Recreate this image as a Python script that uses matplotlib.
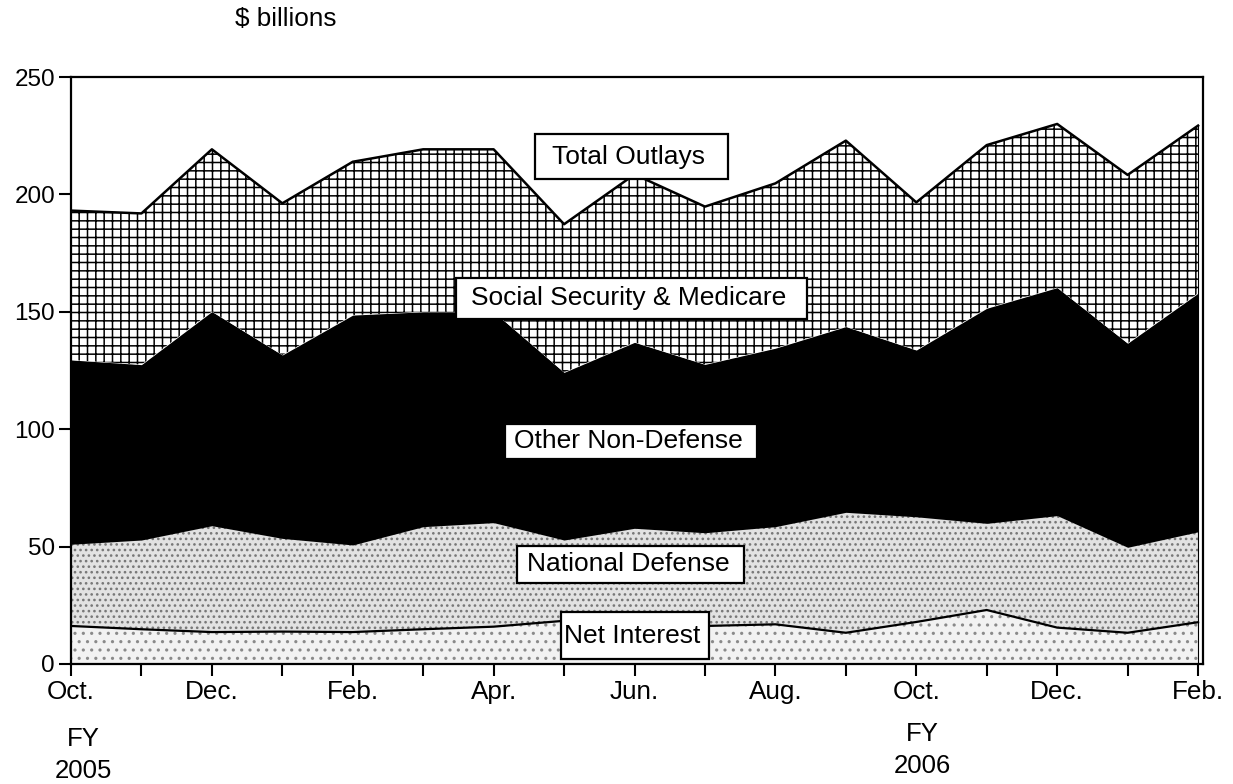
import matplotlib
matplotlib.use("Agg")
import matplotlib.pyplot as plt
import matplotlib.transforms as mtransforms
from matplotlib.patches import Rectangle
import numpy as np

plt.rcParams["font.family"] = ["Liberation Sans", "DejaVu Sans"]
plt.rcParams["hatch.linewidth"] = 1.1

# ---- data ($ billions), Oct FY2005 .. Feb FY2006 ----
months = ["Oct.", "Nov.", "Dec.", "Jan.", "Feb.", "Mar.", "Apr.", "May", "Jun.",
          "Jul.", "Aug.", "Sep.", "Oct.", "Nov.", "Dec.", "Jan.", "Feb."]
net_interest = [16.2, 14.8, 13.6, 13.8, 13.6, 14.8, 15.9, 18.4, 17.0,
                16.2, 16.9, 13.3, 17.9, 23.0, 15.5, 13.3, 17.8]
national_defense = [34.8, 38.0, 45.3, 39.7, 37.1, 43.7, 44.3, 34.4, 40.8,
                    39.7, 41.6, 51.3, 44.8, 36.9, 47.7, 36.4, 38.5]
other_non_defense = [78.5, 74.7, 91.2, 78.1, 97.9, 91.5, 89.8, 71.4, 79.2,
                     71.7, 76.0, 79.1, 71.0, 91.6, 97.1, 86.9, 101.6]
social_security_medicare = [63.6, 64.4, 69.1, 64.6, 65.3, 69.2, 69.2, 63.1, 71.5,
                            67.2, 70.2, 79.2, 62.9, 69.5, 69.7, 71.7, 71.4]
y_ticks = [0, 50, 100, 150, 200, 250]

x = np.arange(len(months))
c1 = np.array(net_interest)
c2 = c1 + np.array(national_defense)
c3 = c2 + np.array(other_non_defense)
c4 = c3 + np.array(social_security_medicare)

fig = plt.figure(figsize=(12.33, 7.84), dpi=100)
ax = fig.add_axes([71 / 1233, 1 - 664 / 784, (1203 - 71) / 1233, (664 - 77) / 784])

ax.fill_between(x, 0, c1, facecolor="#f2f2f2", edgecolor="#8a8a8a", hatch="..", linewidth=0, zorder=1)
ax.fill_between(x, c1, c2, facecolor="#e2e2e2", edgecolor="#777777", hatch="...", linewidth=0, zorder=1)
ax.fill_between(x, c2, c3, facecolor="black", edgecolor="black", linewidth=0, zorder=1)
ax.fill_between(x, c3, c4, facecolor="white", edgecolor="black", hatch="++", linewidth=0, zorder=1)
ax.plot(x, c4, color="black", lw=1.8, zorder=2)
ax.plot(x, c1, color="black", lw=1.6, zorder=2)
ax.plot([x[-1], x[-1]], [0, c4[-1]], color="black", lw=0.8, zorder=2)

ax.set_xlim(0, 16.07)
ax.set_ylim(0, 250)
ax.set_yticks(y_ticks)
ax.set_yticklabels([str(v) for v in y_ticks])
ax.set_xticks(x)
ax.set_xticklabels([m if i % 2 == 0 else "" for i, m in enumerate(months)])
ax.tick_params(axis="both", direction="out", length=8.5, width=1.5, pad=3)
ax.tick_params(axis="y", labelsize=17.5)
ax.tick_params(axis="x", labelsize=18.8)
for s in ax.spines.values():
    s.set_linewidth(1.6)

# labels in boxes: text, text x, text y, box x0, box x1, box y0, box y1
labels = [
    ("Total Outlays", 7.91, 216.1, 6.58, 9.33, 206.6, 225.7),
    ("Social Security & Medicare", 7.91, 155.7, 5.46, 10.45, 146.9, 164.4),
    ("Other Non-Defense", 7.91, 94.8, 6.16, 9.74, 87.3, 102.2),
    ("National Defense", 7.91, 42.4, 6.33, 9.56, 34.5, 50.3),
    ("Net Interest", 7.97, 12.1, 6.96, 9.06, 2.1, 22.1),
]
for t, tx, ty, bx0, bx1, by0, by1 in labels:
    ax.add_patch(Rectangle((bx0, by0), bx1 - bx0, by1 - by0, facecolor="white",
                           edgecolor="black", lw=1.6, zorder=5))
    ax.text(tx, ty, t, ha="center", va="center", fontsize=19, zorder=6)

trans = mtransforms.blended_transform_factory(ax.transData, fig.transFigure)
ax.text(0.18, 1 - 755 / 784, "FY\n2005", ha="center", va="center", fontsize=18.5,
        linespacing=1.4, transform=trans)
ax.text(12.09, 1 - 750 / 784, "FY\n2006", ha="center", va="center", fontsize=18.5,
        linespacing=1.4, transform=trans)

fig.text(286 / 1233, 1 - 19 / 784, "$ billions", ha="center", va="center", fontsize=18.8)

fig.savefig("out.png", dpi=100)
